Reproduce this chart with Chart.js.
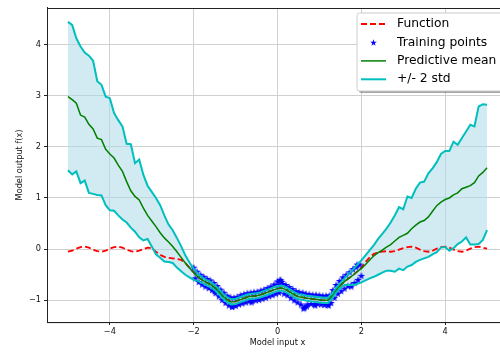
<!DOCTYPE html>
<html>
<head>
<meta charset="utf-8">
<script src="https://cdn.jsdelivr.net/npm/chart.js@4"></script>
<style>
  html, body { margin: 0; padding: 0; background: #fff; overflow: hidden; }
  #wrap { position: absolute; left: 0; top: 0; width: 513px; height: 352px; }
</style>
</head>
<body>
<div id="wrap"><canvas id="gpChart" width="513" height="352"></canvas></div>
<script>
// x grid of the GP prediction
const xValues = [-5.0,-4.9,-4.8,-4.7,-4.6,-4.5,-4.4,-4.3,-4.2,-4.1,-4.0,-3.9,-3.8,-3.7,-3.6,-3.5,-3.4,-3.3,-3.2,-3.1,
  -3.0,-2.9,-2.8,-2.7,-2.6,-2.5,-2.4,-2.3,-2.2,-2.1,-2.0,-1.9,-1.8,-1.7,-1.6,-1.5,-1.4,-1.3,-1.2,-1.1,
  -1.0,-0.9,-0.8,-0.7,-0.6,-0.5,-0.4,-0.3,-0.2,-0.1,0.0,0.1,0.2,0.3,0.4,0.5,0.6,0.7,0.8,0.9,
  1.0,1.1,1.2,1.3,1.4,1.5,1.6,1.7,1.8,1.9,2.0,2.1,2.2,2.3,2.4,2.5,2.6,2.7,2.8,2.9,
  3.0,3.1,3.2,3.3,3.4,3.5,3.6,3.7,3.8,3.9,4.0,4.1,4.2,4.3,4.4,4.5,4.6,4.7,4.8,4.9,5.0];

// true function (red dashed)
const functionY = [-0.05,-0.03,0.01,0.04,0.05,0.03,-0.01,-0.04,-0.05,-0.03,0.01,0.04,0.05,0.03,-0.01,-0.04,-0.05,-0.03,0.00,0.03,
  0.02,-0.05,-0.11,-0.15,-0.17,-0.18,-0.19,-0.21,-0.27,-0.36,-0.45,-0.54,-0.60,-0.65,-0.69,-0.75,-0.83,-0.92,-0.99,-1.03,
  -1.02,-0.99,-0.96,-0.93,-0.92,-0.91,-0.89,-0.86,-0.83,-0.80,-0.77,-0.76,-0.79,-0.84,-0.89,-0.93,-0.94,-0.96,-0.97,-0.98,
  -0.99,-1.00,-1.00,-0.92,-0.80,-0.71,-0.63,-0.57,-0.51,-0.44,-0.36,-0.25,-0.16,-0.09,-0.07,-0.05,-0.04,-0.05,-0.04,-0.01,
  0.02,0.04,0.05,0.03,-0.01,-0.04,-0.05,-0.03,0.01,0.04,0.05,0.03,-0.01,-0.04,-0.05,-0.03,0.01,0.04,0.05,0.03,0.01];

// predictive mean (green)
const meanY = [2.98,2.92,2.85,2.62,2.58,2.44,2.35,2.17,2.14,1.95,1.86,1.78,1.64,1.52,1.32,1.14,1.03,0.96,0.80,0.66,
  0.55,0.44,0.32,0.22,0.14,0.05,-0.05,-0.16,-0.27,-0.37,-0.46,-0.54,-0.60,-0.65,-0.69,-0.75,-0.83,-0.92,-0.99,-1.03,
  -1.02,-0.99,-0.96,-0.93,-0.92,-0.91,-0.89,-0.86,-0.83,-0.80,-0.77,-0.76,-0.79,-0.84,-0.89,-0.93,-0.94,-0.96,-0.97,-0.98,
  -0.99,-1.00,-1.00,-0.92,-0.80,-0.71,-0.63,-0.57,-0.51,-0.44,-0.38,-0.30,-0.21,-0.13,-0.07,-0.02,0.04,0.09,0.16,0.23,
  0.27,0.31,0.40,0.47,0.53,0.56,0.63,0.74,0.85,0.92,0.97,1.00,1.06,1.10,1.18,1.21,1.24,1.30,1.43,1.50,1.59];

// mean + 2 std (cyan, upper)
const upperY = [4.44,4.38,4.12,3.96,3.84,3.78,3.68,3.28,3.21,2.98,2.95,2.66,2.52,2.40,2.06,2.05,1.68,1.75,1.45,1.24,
  1.12,1.00,0.86,0.66,0.48,0.37,0.22,0.06,-0.12,-0.26,-0.38,-0.48,-0.55,-0.60,-0.64,-0.70,-0.78,-0.87,-0.94,-0.98,
  -0.97,-0.94,-0.91,-0.88,-0.87,-0.86,-0.84,-0.81,-0.78,-0.75,-0.72,-0.71,-0.74,-0.79,-0.84,-0.88,-0.89,-0.91,-0.92,-0.93,
  -0.94,-0.95,-0.95,-0.87,-0.75,-0.66,-0.57,-0.48,-0.40,-0.31,-0.22,-0.12,-0.02,0.08,0.20,0.30,0.40,0.52,0.66,0.82,
  0.78,1.03,1.00,1.18,1.30,1.32,1.48,1.58,1.70,1.86,1.92,1.92,2.10,2.04,2.17,2.30,2.43,2.40,2.79,2.83,2.82];

// mean - 2 std (cyan, lower)
const lowerY = [1.54,1.46,1.52,1.29,1.34,1.10,1.08,1.06,1.05,0.86,0.76,0.75,0.66,0.58,0.52,0.42,0.34,0.23,0.17,0.20,
  0.05,-0.10,-0.17,-0.24,-0.25,-0.27,-0.36,-0.43,-0.50,-0.55,-0.60,-0.62,-0.66,-0.70,-0.74,-0.80,-0.88,-0.97,-1.04,-1.08,
  -1.07,-1.04,-1.01,-0.98,-0.97,-0.96,-0.94,-0.91,-0.88,-0.85,-0.82,-0.81,-0.84,-0.89,-0.94,-0.98,-0.99,-1.01,-1.02,-1.03,
  -1.04,-1.05,-1.05,-0.97,-0.85,-0.76,-0.70,-0.70,-0.70,-0.68,-0.65,-0.61,-0.57,-0.54,-0.50,-0.46,-0.42,-0.42,-0.44,-0.38,
  -0.41,-0.34,-0.31,-0.25,-0.21,-0.18,-0.15,-0.10,-0.06,0.03,0.04,-0.03,0.02,0.10,0.15,0.23,0.09,0.09,0.10,0.18,0.37];

// noisy training points (blue stars)
const trainX = [-2.00,-1.96,-1.92,-1.88,-1.84,-1.80,-1.76,-1.72,-1.68,-1.64,-1.60,-1.56,-1.52,-1.48,-1.44,-1.40,-1.36,-1.32,-1.28,-1.24,
  -1.20,-1.16,-1.12,-1.08,-1.04,-1.00,-0.96,-0.92,-0.88,-0.84,-0.80,-0.76,-0.72,-0.68,-0.64,-0.60,-0.56,-0.52,-0.48,-0.44,
  -0.40,-0.36,-0.32,-0.28,-0.24,-0.20,-0.16,-0.12,-0.08,-0.04,0.00,0.04,0.08,0.12,0.16,0.20,0.24,0.28,0.32,0.36,
  0.40,0.44,0.48,0.52,0.56,0.60,0.64,0.68,0.72,0.76,0.80,0.84,0.88,0.92,0.96,1.00,1.04,1.08,1.12,1.16,
  1.20,1.24,1.28,1.32,1.36,1.40,1.44,1.48,1.52,1.56,1.60,1.64,1.68,1.72,1.76,1.80,1.84,1.88,1.92,1.96,
  2.00,0.06,0.10,0.62,0.70,-1.08,1.90,1.76,0.02,0.66,-0.62,0.90,1.22,-1.50];
const trainY = [-0.36,-0.57,-0.44,-0.64,-0.50,-0.69,-0.54,-0.73,-0.58,-0.76,-0.61,-0.80,-0.66,-0.86,-0.72,-0.92,-0.79,-0.99,-0.85,-1.05,
  -0.91,-1.10,-0.94,-1.12,-0.95,-1.11,-0.93,-1.08,-0.90,-1.06,-0.88,-1.04,-0.86,-1.02,-0.85,-1.01,-0.84,-1.00,-0.83,-0.99,
  -0.81,-0.97,-0.79,-0.95,-0.76,-0.92,-0.73,-0.90,-0.69,-0.87,-0.63,-0.85,-0.61,-0.68,-0.87,-0.70,-0.90,-0.74,-0.95,-0.78,
  -1.00,-0.82,-1.04,-0.84,-1.08,-0.85,-1.15,-0.87,-1.08,-0.88,-1.07,-0.89,-1.08,-0.89,-1.07,-0.90,-1.08,-0.91,-1.09,-0.91,
  -1.09,-0.90,-1.05,-0.80,-0.95,-0.70,-0.87,-0.62,-0.82,-0.55,-0.77,-0.50,-0.72,-0.45,-0.70,-0.39,-0.66,-0.35,-0.60,-0.30,
  -0.52,-0.60,-0.64,-1.16,-1.12,-1.13,-0.30,-0.73,-0.70,-1.12,-1.04,-1.10,-1.10,-0.82];

const xTicks = [-4, -2, 0, 2, 4];
const yTicks = [-1, 0, 1, 2, 3, 4];
const legendLabels = ['Function', 'Training points', 'Predictive mean', '+/- 2 std'];

const FONT = '"DejaVu Sans", sans-serif';

function toPoints(xs, ys) {
  return xs.map((x, i) => ({ x: x, y: ys[i] }));
}

// filled 5-point star like matplotlib's '*' marker
function makeStar(size, color) {
  const c = document.createElement('canvas');
  c.width = size; c.height = size;
  const g = c.getContext('2d');
  g.fillStyle = color;
  g.beginPath();
  for (let i = 0; i < 10; i++) {
    const r = i % 2 ? size * 0.5 * 0.382 : size * 0.5;
    const a = -Math.PI / 2 + i * Math.PI / 5;
    g.lineTo(size / 2 + r * Math.cos(a), size / 2 + 0.3 + r * Math.sin(a));
  }
  g.closePath();
  g.fill();
  return c;
}
const starImg = makeStar(8, '#0000ff');
const legendStar = makeStar(7, '#0000ff');

function roundRect(ctx, x, y, w, h, r) {
  ctx.beginPath();
  ctx.moveTo(x + r, y);
  ctx.lineTo(x + w - r, y); ctx.quadraticCurveTo(x + w, y, x + w, y + r);
  ctx.lineTo(x + w, y + h - r); ctx.quadraticCurveTo(x + w, y + h, x + w - r, y + h);
  ctx.lineTo(x + r, y + h); ctx.quadraticCurveTo(x, y + h, x, y + h - r);
  ctx.lineTo(x, y + r); ctx.quadraticCurveTo(x, y, x + r, y);
  ctx.closePath();
}

// box around the axes (top spine)
const frameBox = {
  id: 'frameBox',
  afterDraw(chart) {
    const { ctx, chartArea: a } = chart;
    ctx.save();
    ctx.strokeStyle = '#222';
    ctx.lineWidth = 1;
    ctx.strokeRect(Math.round(a.left) + 0.5, Math.round(a.top) + 0.5, a.right - a.left, a.bottom - a.top);
    ctx.restore();
  }
};

// matplotlib-like legend with shadow in the upper right
const legendBox = {
  id: 'legendBox',
  afterDraw(chart) {
    const ctx = chart.ctx;
    const bx = 357, by = 13, bw = 147, bh = 78;
    ctx.save();
    ctx.fillStyle = 'rgba(77,77,77,0.5)';
    roundRect(ctx, bx + 2, by + 2, bw, bh, 2.5);
    ctx.fill();
    ctx.fillStyle = '#fff';
    roundRect(ctx, bx, by, bw, bh, 2.5);
    ctx.fill();
    ctx.strokeStyle = '#cccccc';
    ctx.lineWidth = 1;
    ctx.stroke();

    const rowY = [24, 42.4, 60.9, 79.3];
    const hx0 = 361, hx1 = 386;
    // Function
    ctx.strokeStyle = '#ff0000'; ctx.lineWidth = 1.8; ctx.setLineDash([6, 3]);
    ctx.beginPath(); ctx.moveTo(hx0, rowY[0]); ctx.lineTo(hx1, rowY[0]); ctx.stroke();
    ctx.setLineDash([]);
    // Training points
    ctx.drawImage(legendStar, Math.round((hx0 + hx1) / 2 - 3.5), Math.round(rowY[1] - 3.5));
    // Predictive mean
    ctx.strokeStyle = '#008000'; ctx.lineWidth = 1.5;
    ctx.beginPath(); ctx.moveTo(hx0, rowY[2]); ctx.lineTo(hx1, rowY[2]); ctx.stroke();
    // +/- 2 std
    ctx.strokeStyle = '#00bfbf'; ctx.lineWidth = 2;
    ctx.beginPath(); ctx.moveTo(hx0, rowY[3]); ctx.lineTo(hx1, rowY[3]); ctx.stroke();

    ctx.fillStyle = '#000';
    ctx.font = '12.3px ' + FONT;
    ctx.textBaseline = 'middle';
    ctx.textAlign = 'left';
    legendLabels.forEach((t, i) => ctx.fillText(t, 397, rowY[i]));
    ctx.restore();
  }
};

const tickFont = { family: FONT, size: 8.2 };
const minus = v => String(v).replace('-', '\u2212');

new Chart(document.getElementById('gpChart'), {
  type: 'scatter',
  data: {
    datasets: [
      {
        label: legendLabels[0],
        data: toPoints(xValues, functionY),
        showLine: true,
        borderColor: '#ff0000',
        borderWidth: 1.8,
        borderDash: [6, 3],
        pointRadius: 0,
        order: 4
      },
      {
        label: legendLabels[1],
        data: toPoints(trainX, trainY),
        showLine: false,
        pointStyle: starImg,
        pointRadius: 4,
        order: 3
      },
      {
        label: legendLabels[2],
        data: toPoints(xValues, meanY),
        showLine: true,
        borderColor: '#008000',
        borderWidth: 1.5,
        pointRadius: 0,
        order: 2
      },
      {
        label: legendLabels[3],
        data: toPoints(xValues, upperY),
        showLine: true,
        borderColor: '#00bfbf',
        borderWidth: 2,
        pointRadius: 0,
        fill: '+1',
        backgroundColor: 'rgba(173,216,230,0.55)',
        order: 1
      },
      {
        label: 'lower',
        data: toPoints(xValues, lowerY),
        showLine: true,
        borderColor: '#00bfbf',
        borderWidth: 2,
        pointRadius: 0,
        fill: false,
        order: 1
      }
    ]
  },
  options: {
    responsive: false,
    animation: false,
    events: [],
    layout: { padding: { left: 0, top: 6, right: 3, bottom: 0 } },
    plugins: {
      legend: { display: false },
      tooltip: { enabled: false },
      filler: { drawTime: 'beforeDatasetsDraw' }
    },
    scales: {
      x: {
        type: 'linear',
        min: -5.5,
        max: 5.5,
        afterBuildTicks: s => { s.ticks = xTicks.map(v => ({ value: v })); },
        afterFit: s => { s.height = 30; },
        grid: { color: '#d0d0d0', lineWidth: 1, tickColor: '#222', tickLength: 3 },
        border: { display: true, color: '#222', width: 1 },
        ticks: { font: tickFont, color: '#111', padding: 2, maxRotation: 0, callback: minus },
        title: { display: true, text: 'Model input x', font: tickFont, color: '#111', padding: { top: 0, bottom: 4 } }
      },
      y: {
        type: 'linear',
        min: -1.423,
        max: 4.713,
        afterBuildTicks: s => { s.ticks = yTicks.map(v => ({ value: v })); },
        afterFit: s => { s.width = 47; },
        grid: { color: '#d0d0d0', lineWidth: 1, tickColor: '#222', tickLength: 3 },
        border: { display: true, color: '#222', width: 1 },
        ticks: { font: tickFont, color: '#111', padding: 3, callback: minus },
        title: { display: true, text: 'Model output f(x)', font: tickFont, color: '#111', padding: { top: 15, bottom: 0 } }
      }
    }
  },
  plugins: [frameBox, legendBox]
});
</script>
</body>
</html>
